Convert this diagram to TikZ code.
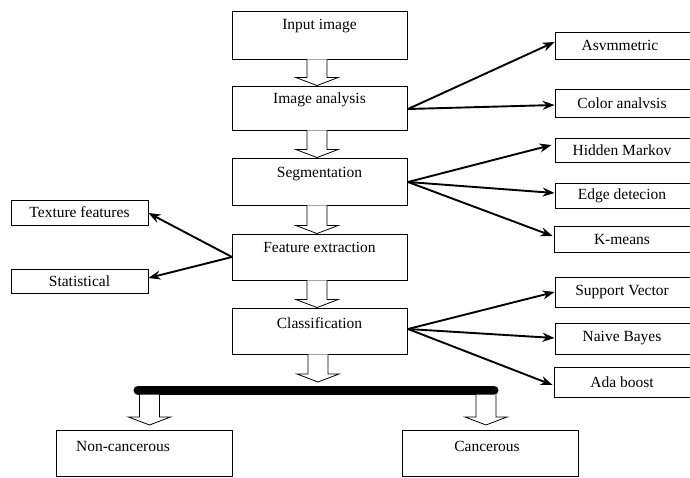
\documentclass[tikz,border=0pt]{standalone}
\usepackage{fontspec}
\setmainfont{Liberation Serif}
\usetikzlibrary{arrows.meta,calc}
\begin{document}
\begin{tikzpicture}[x=1pt,y=-1pt,
  box/.style={draw=black, line width=0.9pt, inner sep=0pt},
  lbl/.style={font=\fontsize{15.5}{17}\selectfont, inner sep=0pt},
  conn/.style={line width=1.9pt, -{Stealth[length=12pt,width=9pt]}},
  hollow/.style={draw=black, line width=0.8pt, fill=white, line join=miter}
]
\newcommand{\hollowarr}[3]{% from coordinate, tip coordinate, half head width
  \draw[hollow] let \p1=(#1), \p2=(#2) in
    (\x1-10pt,\y1) -- (\x1-10pt,\y2+8pt) -- (\x1-#3pt,\y2+8pt) -- (\x1,\y2)
    -- (\x1+#3pt,\y2+8pt) -- (\x1+10pt,\y2+8pt) -- (\x1+10pt,\y1);
}
\clip (0,0) rectangle (690,477);
\fill[white] (0,0) rectangle (690,477);

% main boxes
\node[box, minimum width=175pt, minimum height=48pt] (inp) at (319.5,35) {};
\node[lbl] (inpT) at (319.5,26) {Input image};
\node[box, minimum width=175pt, minimum height=44pt] (ana) at (319.5,108) {};
\node[lbl] (anaT) at (319.5,100) {Image analysis};
\node[box, minimum width=175pt, minimum height=47pt] (seg) at (319.5,181.5) {};
\node[lbl] (segT) at (319.5,174) {Segmentation};
\node[box, minimum width=175pt, minimum height=46pt] (fea) at (319.5,257) {};
\node[lbl] (feaT) at (319.5,247) {Feature extraction};
\node[box, minimum width=175pt, minimum height=46pt] (cla) at (319.5,331) {};
\node[lbl] (claT) at (319.5,323) {Classification};

% right boxes (extend past right edge)
\node[box, minimum width=150pt, minimum height=27pt] (asy) at (630,45.5) {};
\node[lbl] (asyT) at (620,45.5) {Asvmmetric};
\node[box, minimum width=150pt, minimum height=28pt] (col) at (630,103) {};
\node[lbl] (colT) at (622,103) {Color analvsis};
\node[box, minimum width=150pt, minimum height=24pt] (hid) at (630,150) {};
\node[lbl] (hidT) at (622,150) {Hidden Markov};
\node[box, minimum width=150pt, minimum height=25pt] (edg) at (630,195.5) {};
\node[lbl] (edgT) at (622,195.5) {Edge detecion};
\node[box, minimum width=150pt, minimum height=26pt] (kme) at (629,239) {};
\node[lbl] (kmeT) at (622,239) {K-means};
\node[box, minimum width=150pt, minimum height=30pt] (sup) at (630,292) {};
\node[lbl] (supT) at (622,292) {Support Vector};
\node[box, minimum width=150pt, minimum height=31pt] (nai) at (630,338.5) {};
\node[lbl] (naiT) at (622,338.5) {Naive Bayes};
\node[box, minimum width=150pt, minimum height=30pt] (ada) at (629,382) {};
\node[lbl] (adaT) at (622,382) {Ada boost};

% left boxes
\node[box, lbl, draw, line width=0.9pt, minimum width=137pt, minimum height=25pt] (tex) at (79.5,212.5) {Texture features};
\node[box, lbl, draw, line width=0.9pt, minimum width=137pt, minimum height=24pt] (sta) at (79.5,281) {Statistical};

% bottom boxes
\node[box, minimum width=176pt, minimum height=46pt] (non) at (144,453.5) {};
\node[lbl] (nonT) at (123,446) {Non-cancerous};
\node[box, minimum width=176pt, minimum height=46pt] (can) at (490,453.5) {};
\node[lbl] (canT) at (487,446) {Cancerous};

% connectors
\coordinate (anaR) at (408,109);
\coordinate (segR) at (408,182);
\coordinate (claR) at (408,329);
\coordinate (feaL) at (232,257);
\draw[conn] (anaR) -- (asy.west |- 0,42);
\draw[conn] (anaR) -- (col.west |- 0,105);
\draw[conn] (segR) -- ([xshift=-3pt]hid.west |- 0,145);
\draw[conn] (segR) -- (edg.west |- 0,193);
\draw[conn] (segR) -- ([xshift=-1pt]kme.west |- 0,236);
\draw[conn] (claR) -- (sup.west |- 0,292);
\draw[conn] (claR) -- (nai.west |- 0,338);
\draw[conn] (claR) -- ([xshift=-1pt]ada.west |- 0,385);
\draw[conn] (feaL) -- (tex.east |- 0,213);
\draw[conn] (feaL) -- (sta.east |- 0,278);

% hollow arrows between main boxes
\hollowarr{$(inp.south)+(-2.5,0)$}{$(ana.north)+(-2.5,0)$}{21}
\hollowarr{$(ana.south)+(-2.5,0)$}{$(seg.north)+(-2.5,0)$}{21}
\hollowarr{$(seg.south)+(-2.5,0)$}{$(fea.north)+(-2.5,0)$}{21}
\hollowarr{$(fea.south)+(-2.5,0)$}{$(cla.north)+(-2.5,0)$}{21}

% bar
\coordinate (barL) at (138,390);
\coordinate (barR) at (494,390);
\coordinate (claTip) at (318,382);
\hollowarr{$(cla.south)+(-1.5,0)$}{claTip}{21}
\draw[line width=9pt, line cap=round] (barL) -- (barR);
\coordinate (nonTop) at (149.5,394.5);
\coordinate (nonTip) at (149.5,425);
\coordinate (canTop) at (486,394.5);
\coordinate (canTip) at (486,425);
\hollowarr{nonTop}{nonTip}{21}
\hollowarr{canTop}{canTip}{21}
\end{tikzpicture}
\end{document}
